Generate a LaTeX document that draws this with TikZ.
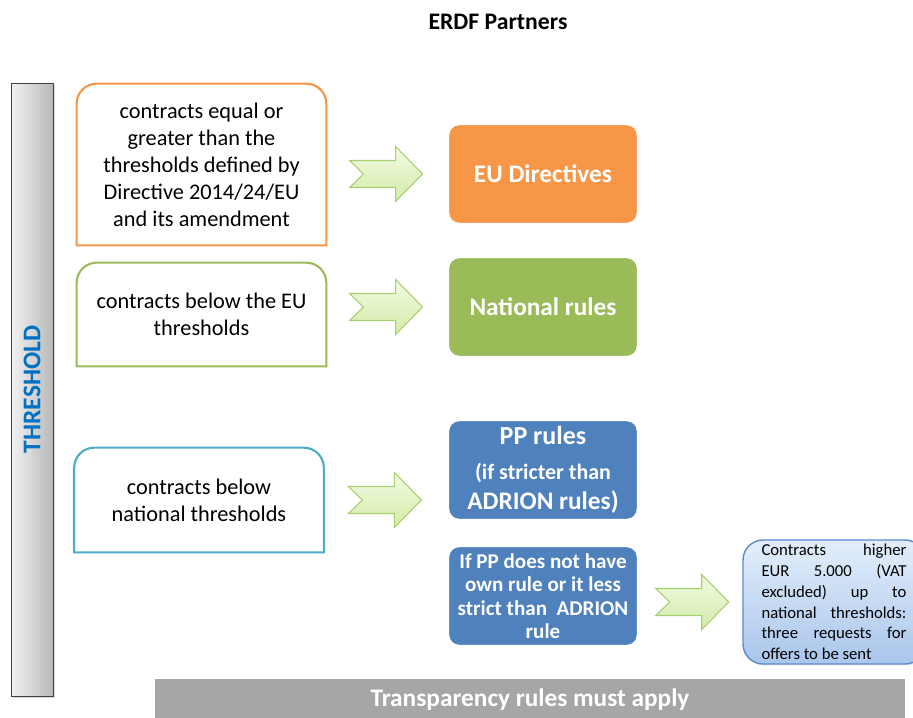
\documentclass[tikz,border=0pt]{standalone}
\usepackage{fontspec}
\setmainfont{Carlito}
\usetikzlibrary{calc,shadows}

\definecolor{erdforange}{HTML}{F79646}
\definecolor{erdfgreen}{HTML}{9BBB59}
\definecolor{erdfteal}{HTML}{4BACC6}
\definecolor{erdfblue}{HTML}{4F81BD}
\definecolor{thrblue}{HTML}{0070C0}
\definecolor{bargray}{HTML}{A6A6A6}
\definecolor{arrowline}{HTML}{A8CF6E}
\definecolor{arrowtop}{HTML}{F2FAE4}
\definecolor{arrowbottom}{HTML}{D3ECA8}
\definecolor{offertop}{HTML}{E3EEFB}
\definecolor{offerbottom}{HTML}{A9C6EC}
\definecolor{offerline}{HTML}{5B8BD0}

\tikzset{
  leftbox/.style={minimum width=4.98cm, align=center, inner sep=0pt,
    font=\fontsize{12.7}{15.4}\selectfont},
  rulebox/.style={rounded corners=0.24cm, draw=white, line width=2.5pt,
    minimum width=3.84cm, minimum height=2.04cm, align=center, text=white,
    font=\fontsize{14.4}{17}\selectfont\bfseries,
    drop shadow={opacity=0.25, shadow xshift=0.6pt, shadow yshift=-0.8pt}},
  offerbox/.style={rounded corners=0.4cm, draw=offerline, line width=0.8pt,
    top color=offertop, bottom color=offerbottom,
    minimum width=3.64cm, minimum height=2.48cm, inner sep=0pt,
    text width=2.9cm, align=justify, font=\fontsize{9.5}{11.8}\selectfont,
    drop shadow={opacity=0.2, shadow xshift=0.6pt, shadow yshift=-0.8pt}},
  blockarrow/.pic={
    \draw[arrowline, line width=0.6pt, top color=arrowtop, bottom color=arrowbottom]
      (-36,-13.5) -- (-22,0) -- (-36,13.5) -- (10,13.5) -- (10,27.5)
      -- (37,0) -- (10,-27.5) -- (10,-13.5) -- cycle;
  }
}

\begin{document}
\begin{tikzpicture}[x=0.02cm, y=-0.02cm]
  \useasboundingbox (0,0) rectangle (913,717);

  \node[font=\fontsize{13.5}{16}\selectfont\bfseries] (title) at (498,22) {ERDF Partners};

  % threshold bar
  \node[draw=black!75, left color=black!5, right color=black!28,
    minimum width=0.84cm, minimum height=12.26cm,
    drop shadow={opacity=0.3, shadow xshift=1pt, shadow yshift=-1pt}] (thrbar) at (32,389.5) {};
  \node[rotate=90, text=thrblue, font=\fontsize{14.5}{17}\selectfont\bfseries] (thrtext) at (thrbar.center) {THRESHOLD};

  % contracts
  \node[leftbox, minimum height=3.22cm] (c1) at (201.5,164.5)
    {contracts equal or\\greater than the\\thresholds defined by\\Directive 2014/24/EU\\and its amendment};
  \node[leftbox, minimum height=2.06cm] (c2) at (201.5,314.5)
    {contracts below the EU\\thresholds};
  \node[leftbox, minimum height=2.08cm] (c3) at (199,500)
    {contracts below\\national thresholds};

  \foreach \n/\c in {c1/erdforange, c2/erdfgreen, c3/erdfteal}
    \draw[\c, line width=1.2pt] (\n.south west) -- ([yshift=-0.4cm]\n.north west)
      arc[start angle=180, end angle=90, radius=0.4cm] -- ([xshift=-0.4cm]\n.north east)
      arc[start angle=90, end angle=0, radius=0.4cm] -- (\n.south east) -- cycle;

  % rules
  \node[rulebox, fill=erdforange] (eu) at (543,174) {EU Directives};
  \node[rulebox, fill=erdfgreen] (nat) at (543,307) {National rules};
  \node[rulebox, fill=erdfblue] (pp) at (543,470)
    {{\fontsize{14.8}{17}\selectfont PP rules}\\[3pt]
     \fontsize{12.5}{13.8}\selectfont(if stricter than\\ADRION rules)};
  \node[rulebox, fill=erdfblue, font=\fontsize{12}{13.4}\selectfont\bfseries] (ifpp) at (543,596)
    {If PP does not have\\own rule or it less\\strict than~~ADRION\\rule};

  \node[offerbox] (offers) at (834,602)
    {Contracts higher\linebreak EUR 5.000 (VAT\linebreak excluded) up to\linebreak
     national thresholds:\linebreak three requests for\linebreak offers to be sent};

  % arrows
  \foreach \src/\dst/\ref [count=\i] in {c1/eu/eu, c2/nat/nat, c3/pp/c3, ifpp/offers/offers}{
    \coordinate (m\i) at ($(\src.east)!0.5!(\dst.west)$);
    \pic at (m\i |- \ref.center) {blockarrow};
  }

  \node[fill=bargray, minimum width=15cm, minimum height=0.84cm, text=white,
    font=\fontsize{14.4}{17}\selectfont\bfseries] (transp) at (530,700) {Transparency rules must apply};

\end{tikzpicture}
\end{document}
